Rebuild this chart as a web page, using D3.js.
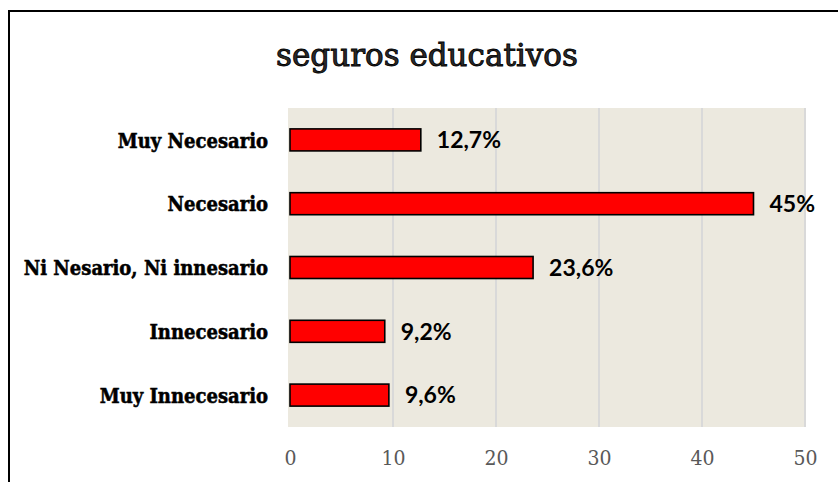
<!DOCTYPE html>
<html>
<head>
<meta charset="utf-8">
<script src="https://cdn.jsdelivr.net/npm/d3@7"></script>
<style>
  html, body { margin: 0; padding: 0; background: #fff; }
  svg { display: block; }
</style>
</head>
<body>
<svg id="chart" width="838" height="482"></svg>
<script>
// Survey responses about educational insurance (percent of respondents)
const categories = ["Muy Necesario", "Necesario", "Ni Nesario, Ni innesario", "Innecesario", "Muy Innecesario"];
const values = [12.7, 45, 23.6, 9.2, 9.6];
const valueLabels = ["12,7%", "45%", "23,6%", "9,2%", "9,6%"];
const xTicks = [0, 10, 20, 30, 40, 50];
const title = "seguros educativos";

const svg = d3.select("#chart");
const W = 838, H = 482;

// outer frame (continues past the right and bottom edges)
svg.append("rect")
  .attr("x", 9).attr("y", 11)
  .attr("width", W + 20).attr("height", H + 20)
  .attr("fill", "#fff").attr("stroke", "#000").attr("stroke-width", 2);

const plot = { left: 290, right: 805, top: 108, bottom: 427 };

const x = d3.scaleLinear().domain([0, 50]).range([plot.left, plot.right]);
const y = d3.scaleBand().domain(categories).range([plot.top, plot.bottom]).paddingInner(0.655).paddingOuter(0.3275);

// plot background
svg.append("rect")
  .attr("x", plot.left - 2).attr("y", plot.top)
  .attr("width", plot.right - plot.left + 2).attr("height", plot.bottom - plot.top)
  .attr("fill", "#ECE9DF");

// vertical gridlines
svg.append("g").selectAll("line")
  .data(xTicks.filter(d => d > 0))
  .join("line")
  .attr("x1", d => x(d)).attr("x2", d => x(d))
  .attr("y1", plot.top).attr("y2", plot.bottom)
  .attr("stroke", "#D9D9D9").attr("stroke-width", 2);

// title
svg.append("text")
  .attr("x", 427).attr("y", 66)
  .attr("text-anchor", "middle")
  .attr("font-family", "'DejaVu Serif', serif")
  .attr("font-size", 31)
  .attr("fill", "#2b2b2b")
  .attr("stroke", "#000").attr("stroke-width", 0.9)
  .text(title);

// bars
svg.append("g").selectAll("rect")
  .data(values)
  .join("rect")
  .attr("x", x(0))
  .attr("y", (d, i) => y(categories[i]))
  .attr("width", d => x(d) - x(0))
  .attr("height", y.bandwidth())
  .attr("fill", "#FF0000")
  .attr("stroke", "#000").attr("stroke-width", 1.6);

// value labels
svg.append("g").selectAll("text")
  .data(values)
  .join("text")
  .attr("x", d => x(d) + 16)
  .attr("y", (d, i) => y(categories[i]) + y.bandwidth() / 2)
  .attr("dy", "0.36em")
  .attr("font-family", "Lato, sans-serif")
  .attr("font-weight", "bold")
  .attr("font-size", 23)
  .attr("fill", "#000")
  .text((d, i) => valueLabels[i]);

// category axis
const yAxis = d3.axisLeft(y).tickSize(0).tickPadding(0);
const gy = svg.append("g").attr("transform", `translate(268,0)`).call(yAxis);
gy.select(".domain").remove();
gy.selectAll("text")
  .attr("dy", "0.38em")
  .attr("font-family", "'DejaVu Serif Condensed', 'DejaVu Serif', serif")
  .attr("font-weight", "bold")
  .attr("font-size", 20)
  .attr("fill", "#000")
  .attr("stroke", "#000").attr("stroke-width", 0.5);

// value axis
const xAxis = d3.axisBottom(x).tickValues(xTicks).tickSize(0).tickPadding(0).tickFormat(d3.format("d"));
const gx = svg.append("g").attr("transform", `translate(0,${plot.bottom + 30})`).call(xAxis);
gx.select(".domain").remove();
gx.selectAll("text")
  .attr("dy", "0.36em")
  .attr("font-family", "'DejaVu Serif Condensed', 'DejaVu Serif', serif")
  .attr("font-size", 21)
  .attr("fill", "#595959");
</script>
</body>
</html>
